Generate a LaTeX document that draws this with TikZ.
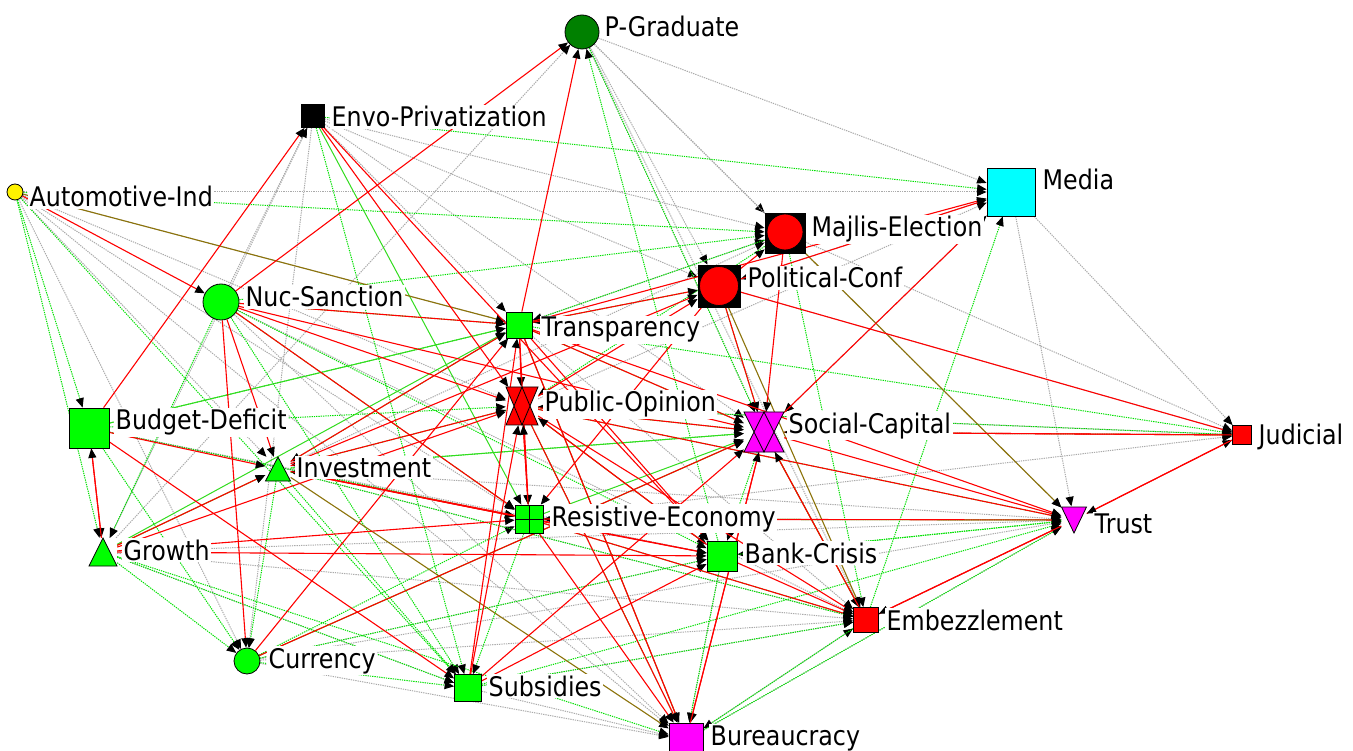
\documentclass[tikz,border=0pt]{standalone}
\usepackage{fontspec}
\setmainfont[FakeStretch=0.88]{DejaVu Sans}
\usetikzlibrary{arrows.meta}
\pgfdeclarelayer{bg}
\pgfsetlayers{bg,main}
\definecolor{lime}{RGB}{0,255,0}
\definecolor{pgdark}{RGB}{0,128,0}
\definecolor{mag}{RGB}{255,0,255}
\definecolor{cyn}{RGB}{0,255,255}
\definecolor{gdot}{RGB}{0,225,0}
\definecolor{kdot}{RGB}{170,170,170}
\definecolor{oliv}{RGB}{140,115,10}
\definecolor{gsol}{RGB}{50,220,30}
\tikzset{
  sq/.style={rectangle, draw=black, line width=0.8pt, inner sep=0pt},
  circ/.style={circle, draw=black, line width=0.8pt, inner sep=0pt},
  ghost/.style={rectangle, draw=none, inner sep=0pt},
  shp/.style={draw=black, line width=0.8pt, line join=miter},
  lbl/.style={anchor=base west, fill=white, inner sep=1.5pt, font=\fontsize{27}{30}\selectfont},
  tip/.style={-{Triangle[length=9.5pt,width=8pt,color=black]}},
  redE/.style={tip, draw=red, line width=1.1pt},
  grnE/.style={tip, draw=gdot, line width=1pt, dash pattern=on 1.3pt off 1pt},
  gryE/.style={tip, draw=kdot, line width=1pt, dash pattern=on 1.3pt off 1pt},
  olvE/.style={tip, draw=oliv, line width=1.1pt},
  gslE/.style={tip, draw=gsol, line width=1pt}
}
\begin{document}
\begin{tikzpicture}[x=1pt,y=-1pt]
\useasboundingbox (0,0) rectangle (1353,751);
% nodes
\node[circ, fill=pgdark, minimum size=34pt] (PG) at (582,32) {};
\node[sq, fill=black, minimum size=23pt] (EP) at (313,116) {};
\node[circ, fill=yellow, minimum size=16pt] (AI) at (15,192) {};
\node[sq, fill=cyn, minimum size=48pt] (MD) at (1011,192) {};
\node[sq, fill=black, minimum size=40pt] (ME) at (785,233) {};
\node[circ, fill=red, minimum size=36pt] (MEc) at (785,232) {};
\node[sq, fill=black, minimum size=42pt] (PC) at (719,286) {};
\node[circ, fill=red, minimum size=39pt] (PCc) at (719,286) {};
\node[circ, fill=lime, minimum size=36pt] (NS) at (221,302) {};
\node[sq, fill=lime, minimum size=26pt] (TR) at (519,325) {};
\node[ghost, minimum width=32pt, minimum height=38pt] (PO) at (522,406) {};
\fill[red] (506,387) -- (538,387) -- (522,425) -- cycle;
\fill[red] (506,425) -- (538,425) -- (522,387) -- cycle;
\draw[shp] (506,387) -- (538,387) -- (522,425) -- cycle (506,425) -- (538,425) -- (522,387) -- cycle;
\node[ghost, minimum width=40pt, minimum height=40pt] (SC) at (764,432) {};
\fill[mag] (744,412) -- (784,412) -- (764,452) -- cycle;
\fill[mag] (744,452) -- (784,452) -- (764,412) -- cycle;
\draw[shp] (744,412) -- (784,412) -- (764,452) -- cycle (744,452) -- (784,452) -- (764,412) -- cycle;
\node[sq, fill=red, minimum size=19pt] (JU) at (1242,435) {};
\node[sq, fill=lime, minimum size=40pt] (BD) at (89,428) {};
\node[ghost, minimum width=25pt, minimum height=24pt] (IN) at (278,469) {};
\filldraw[shp, fill=lime] (265.5,481) -- (290.5,481) -- (278,457) -- cycle;
\node[sq, fill=lime, minimum size=28pt, path picture={\draw[black,line width=0.8pt] (path picture bounding box.north) -- (path picture bounding box.south) (path picture bounding box.west) -- (path picture bounding box.east);}] (RE) at (529,519) {};
\node[ghost, minimum width=25pt, minimum height=27pt] (TU) at (1074,520) {};
\filldraw[shp, fill=mag] (1061.5,507) -- (1086.5,507) -- (1074,533) -- cycle;
\node[ghost, minimum width=28pt, minimum height=28pt] (GR) at (103,552) {};
\filldraw[shp, fill=lime] (89,566) -- (117,566) -- (103,538) -- cycle;
\node[sq, fill=lime, minimum size=30pt] (BC) at (722,556) {};
\node[sq, fill=red, minimum size=25pt] (EM) at (866,620) {};
\node[circ, fill=lime, minimum size=26pt] (CU) at (247,661) {};
\node[sq, fill=lime, minimum size=27pt] (SU) at (468,688) {};
\node[sq, fill=mag, minimum size=34pt] (BU) at (686,740) {};
% edges
\begin{pgfonlayer}{bg}
\fill[white] (0,0) rectangle (1353,751);
\foreach \a/\b in {AI/MD, AI/TR, AI/PO, AI/RE, AI/CU, AI/IN, AI/BU, PG/MD, PG/PC, PG/ME, PG/SC, PG/TU, PG/EM, EP/ME, EP/PC, EP/SC, EP/CU, EP/GR, EP/TR, MD/TU, MD/JU, MD/PC, MD/SC, PC/JU, NS/EP, NS/BU, BD/RE, BD/BC, GR/EM, GR/PG, CU/BC, CU/BU, CU/EM, SU/BU, SU/EM, EM/TU, BU/EM, BU/TU, BC/BU, IN/EM, RE/JU, PO/JU, TR/EM, IN/ME, GR/SU, NS/EM, GR/TU, IN/TU, PO/MD, TR/ME, ME/JU, CU/TU}
  \draw[gryE] (\a) -- (\b);
\foreach \a/\b in {EP/MD, AI/GR, AI/ME, BC/PG, TR/JU, SC/JU, EM/MD, ME/EM, NS/GR, NS/SU, NS/TR, NS/RE, BD/TR, BD/CU, GR/CU, GR/SU, GR/BU, CU/SU, CU/RE, IN/SU, IN/SC, IN/CU, PO/BU, RE/EM, RE/TU, BC/BU, EM/BU, SC/EM, SC/BC, TR/SC, PO/SC, PC/TR, ME/TR, TU/RE, TU/BC, JU/PO, BD/PO, SU/EM, SU/TU, PG/SC, AI/BD, AI/SU, NS/BC, BD/RE, PC/SC, ME/PO, BU/TU, IN/EM, TR/IN, PO/IN, CU/BC, RE/SU, PO/TU, BC/TU, NS/ME, EP/SU}
  \draw[grnE] (\a) -- (\b);
\foreach \a/\b in {EP/RE, GR/IN, GR/TR, CU/SC, IN/SC, RE/SC, BD/TR}
  \draw[gslE] (\a) -- (\b);
\foreach \a/\b in {AI/TR, ME/TU, IN/BU, PC/EM, PO/BC, TR/BU, SC/EM}
  \draw[olvE] (\a) -- (\b);
\foreach \a/\b in {NS/PG, TR/PG, BD/EP, EP/BC, AI/NS, SC/MD, PC/JU, SC/JU, JU/SC, TR/MD, PC/MD, NS/TR, NS/PO, NS/IN, NS/CU, NS/SC, NS/RE, TR/PO, TR/SC, TR/RE, TR/BC, PO/RE, PO/SC, PO/EM, PO/TU, RE/PO, IN/PO, IN/RE, RE/IN, IN/BC, GR/RE, GR/BC, GR/PO, GR/IN, BD/GR, GR/BD, BD/SU, BD/IN, CU/TR, CU/SC, SU/PO, SU/TR, SU/SC, SU/BC, TR/BU, PO/BU, RE/BU, EM/TU, TU/EM, TU/JU, JU/TU, RE/BC, RE/EM, BC/EM, TR/PC, PO/PC, IN/PC, PC/ME, PC/SC, SC/TU, RE/TU, TR/TU, EP/PO, SC/BU, IN/TR, BC/PO, EM/SC, ME/SC, PC/RE, BU/SC}
  \draw[redE] (\a) -- (\b);
\end{pgfonlayer}
% labels
\node[lbl] (lPG) at (603,37) {P-Graduate};
\node[lbl] (lEP) at (330,127) {Envo-Privatization};
\node[lbl] (lAI) at (28,207) {Automotive-Ind};
\node[lbl] (lMD) at (1041,190) {Media};
\node[lbl] (lME) at (810,237) {Majlis-Election};
\node[lbl] (lPC) at (746,288) {Political-Conf};
\node[lbl] (lNS) at (244,307) {Nuc-Sanction};
\node[lbl] (lTR) at (540,337) {Transparency};
\node[lbl] (lPO) at (543,412) {Public-Opinion};
\node[lbl] (lSC) at (787,433) {Social-Capital};
\node[lbl] (lJU) at (1257,445) {Judicial};
\node[lbl] (lBD) at (114,430) {Budget-Deficit};
\node[lbl] (lIN) at (295,477) {Investment};
\node[lbl] (lRE) at (550,526) {Resistive-Economy};
\node[lbl] (lTU) at (1093,533) {Trust};
\node[lbl] (lGR) at (122,560) {Growth};
\node[lbl] (lBC) at (743,563) {Bank-Crisis};
\node[lbl] (lEM) at (885,630) {Embezzlement};
\node[lbl] (lCU) at (267,668) {Currency};
\node[lbl] (lSU) at (487,696) {Subsidies};
\node[lbl] (lBU) at (709,745) {Bureaucracy};
\end{tikzpicture}
\end{document}
